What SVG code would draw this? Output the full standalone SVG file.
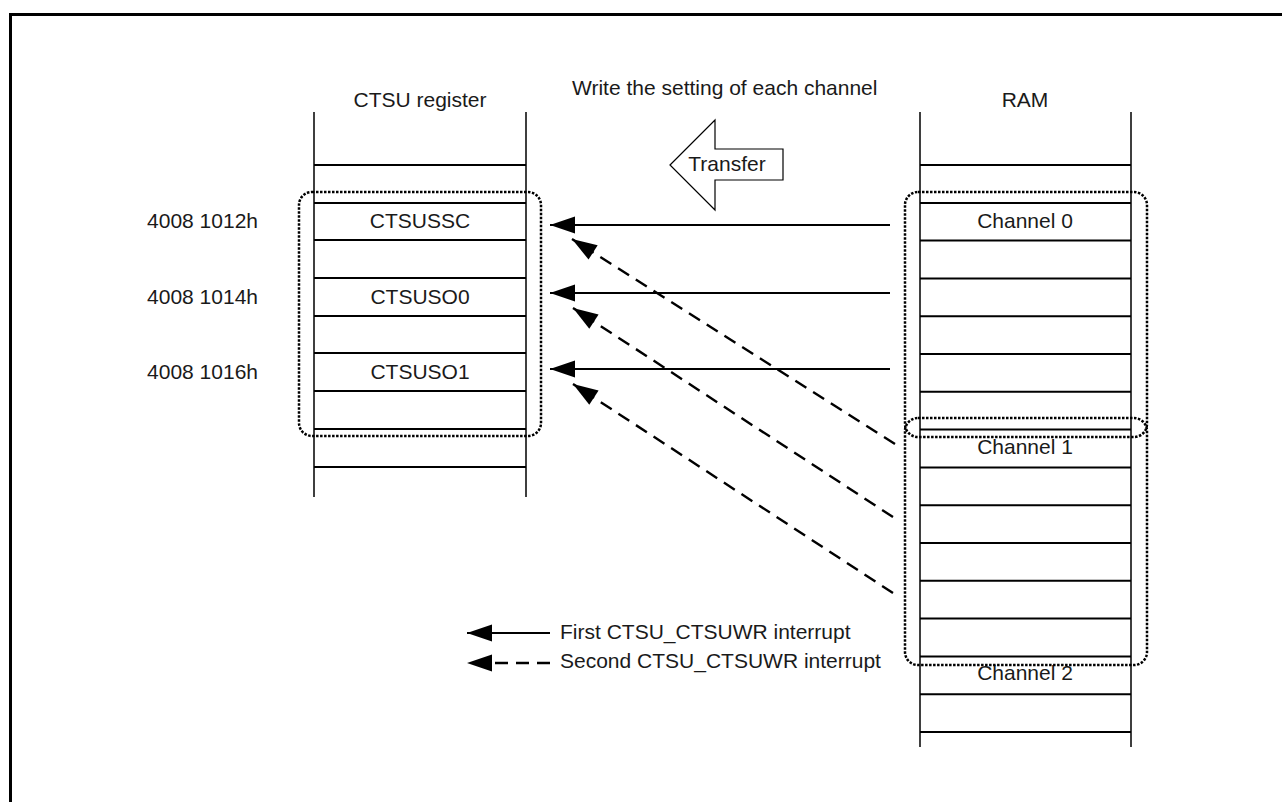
<svg xmlns="http://www.w3.org/2000/svg" width="1282" height="802" viewBox="0 0 1282 802">
<defs>
<marker id="ah" markerUnits="userSpaceOnUse" markerWidth="26" markerHeight="18" refX="25" refY="8.5" orient="auto" overflow="visible">
<path d="M0,0 L25,8.5 L0,17 z" fill="#000"/>
</marker>
<style>
text{font-family:"Liberation Sans",Arial,sans-serif;font-size:21px;fill:#1a1a1a}
.mid{text-anchor:middle}
.col{stroke:#000;stroke-width:1.5;fill:none}
.row{stroke:#000;stroke-width:2;fill:none}
.grp{stroke:#000;stroke-width:2.5;fill:none;stroke-dasharray:2.5 1.5}
.solid{stroke:#000;stroke-width:2;fill:none;marker-end:url(#ah)}
.dash{stroke:#000;stroke-width:2.4;fill:none;stroke-dasharray:13 8;marker-end:url(#ah)}
</style>
</defs>
<rect width="1282" height="802" fill="#fff"/>
<path d="M10.5,802 V14.5 H1282" fill="none" stroke="#000" stroke-width="3"/>

<g id="ctsu-register">
<text x="420" y="107" class="mid">CTSU register</text>
<path class="col" d="M314,112 V497 M526,112 V497"/>
<path class="row" d="M314,165 H526 M314,203 H526 M314,240 H526 M314,278 H526 M314,316 H526 M314,353 H526 M314,391 H526 M314,429 H526 M314,467 H526"/>
<text x="420" y="228" class="mid">CTSUSSC</text>
<text x="420" y="304" class="mid">CTSUSO0</text>
<text x="420" y="379" class="mid">CTSUSO1</text>
<rect class="grp" x="299" y="192" width="242" height="244" rx="13"/>
</g>

<g id="addresses">
<text x="258" y="228" text-anchor="end">4008 1012h</text>
<text x="258" y="304" text-anchor="end">4008 1014h</text>
<text x="258" y="379" text-anchor="end">4008 1016h</text>
</g>

<g id="ram">
<text x="1025" y="107" class="mid">RAM</text>
<path class="col" d="M920,112 V747 M1131,112 V747"/>
<path class="row" d="M920,165 H1131 M920,203 H1131 M920,240.6 H1131 M920,278.4 H1131 M920,316.2 H1131 M920,354 H1131 M920,391.8 H1131 M920,429.6 H1131 M920,467.4 H1131 M920,505.2 H1131 M920,543 H1131 M920,580.8 H1131 M920,618.6 H1131 M920,656.4 H1131 M920,694.2 H1131 M920,732 H1131"/>
<text x="1025" y="228" class="mid">Channel 0</text>
<text x="1025" y="454" class="mid">Channel 1</text>
<text x="1025" y="680" class="mid">Channel 2</text>
<rect class="grp" x="905" y="192" width="242" height="245" rx="13"/>
<rect class="grp" x="905" y="418" width="242" height="247" rx="13"/>
</g>

<g id="transfer">
<text x="572" y="95">Write the setting of each channel</text>
<polygon points="670,165 715,120 715,149 783,149 783,180 715,180 715,210" fill="#fff" stroke="#000" stroke-width="1.2"/>
<text x="727" y="171" class="mid">Transfer</text>
</g>

<g id="connectors">
<line class="solid" x1="890" y1="225" x2="550" y2="225"/>
<line class="solid" x1="890" y1="293" x2="550" y2="293"/>
<line class="solid" x1="890" y1="369" x2="550" y2="369"/>
<line class="dash" x1="895" y1="444" x2="572" y2="239"/>
<line class="dash" x1="893" y1="517" x2="573" y2="308"/>
<line class="dash" x1="893" y1="593" x2="573" y2="384"/>
</g>

<g id="legend">
<line class="solid" x1="550" y1="633" x2="467" y2="633"/>
<text x="560" y="639">First CTSU_CTSUWR interrupt</text>
<line class="dash" x1="550" y1="663" x2="467" y2="663"/>
<text x="560" y="668">Second CTSU_CTSUWR interrupt</text>
</g>
</svg>
